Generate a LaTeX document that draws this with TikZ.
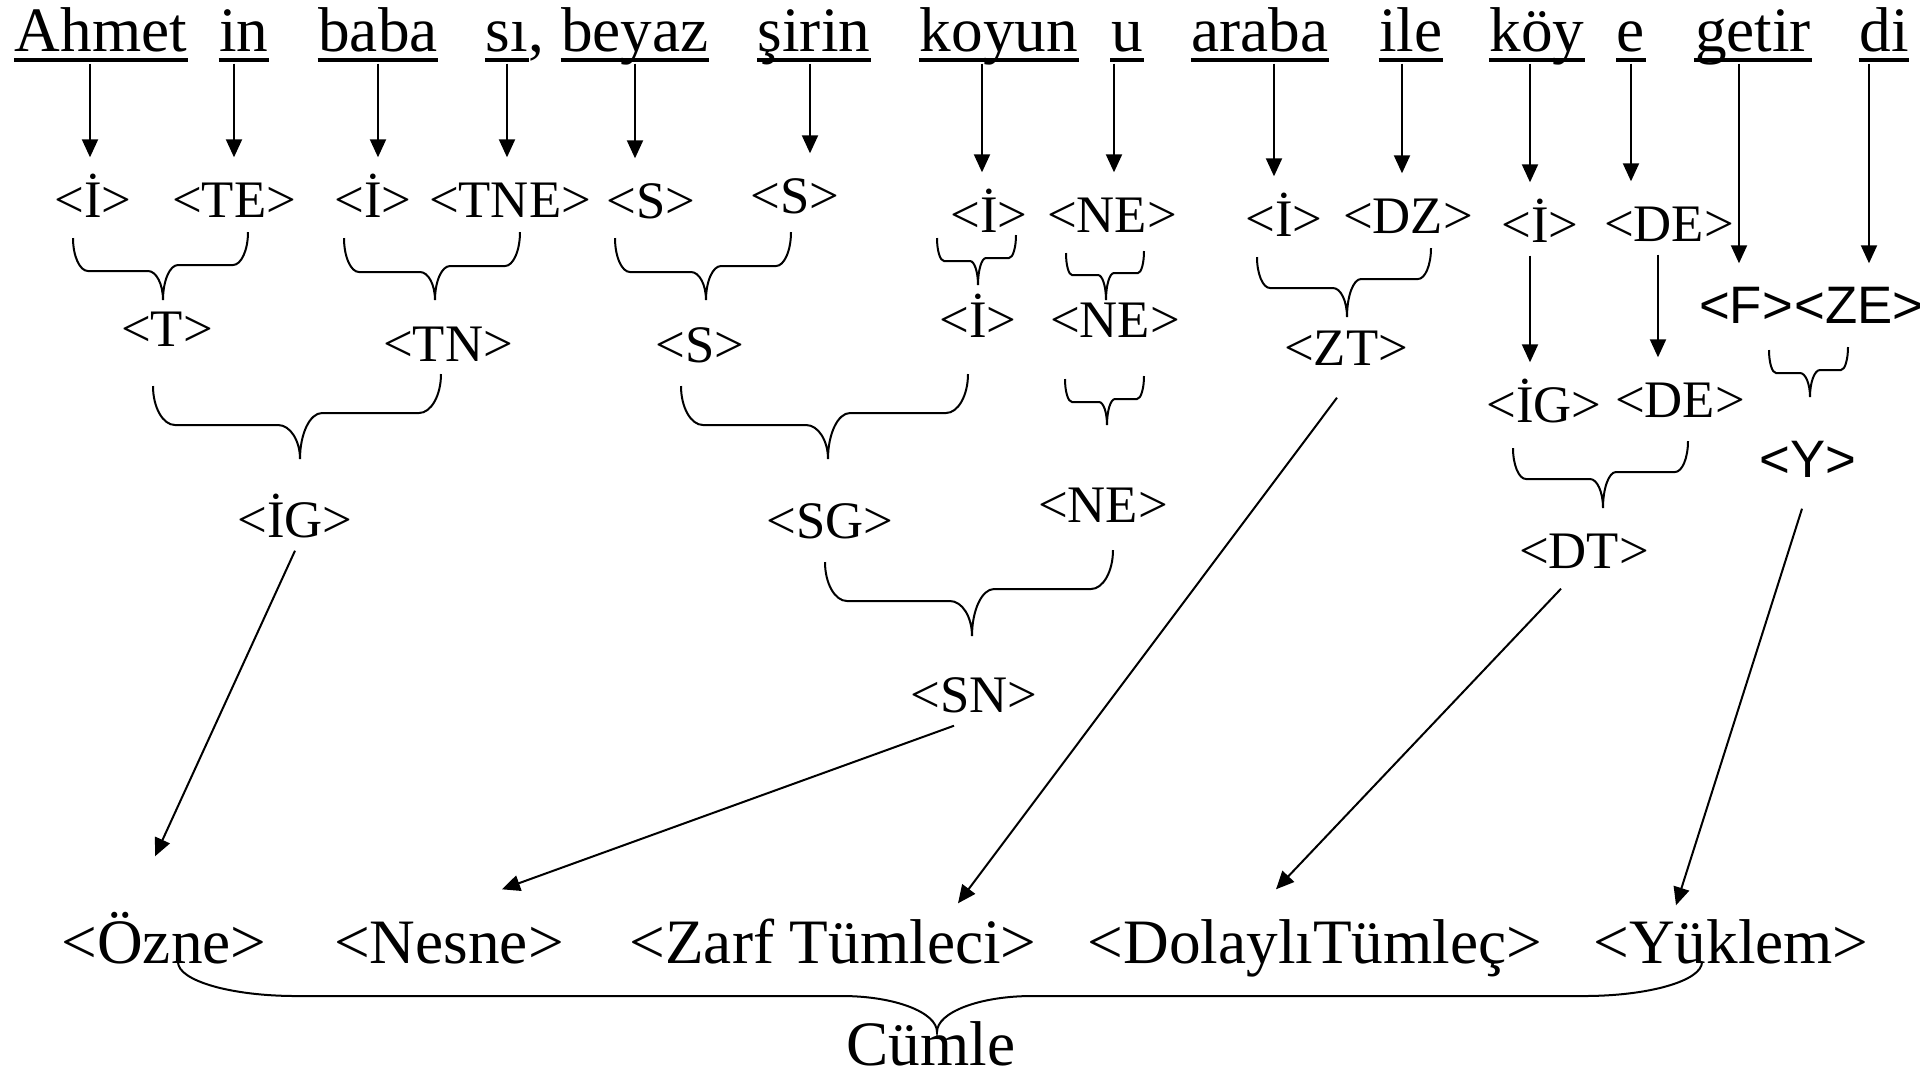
\documentclass[tikz,border=0pt]{standalone}
\usepackage{fontspec}
\setmainfont{Liberation Serif}
\newfontfamily\arialfont{Liberation Sans}
\usetikzlibrary{arrows.meta}

\newcommand{\bigfont}{\fontsize{18}{20}\selectfont}
\newcommand{\midfont}{\fontsize{15}{17}\selectfont}

% curly brace: left top (#1,#2), right top (#3,#4), tip (#5,#6),
% arm depth #7, corner width #8, tip half width #9
\newcommand{\ubrace}[9]{%
  \draw[curly] (#1,#2) .. controls +(0,0.55*#7) and +(-0.55*#8,0) .. (#1+#8,#2+#7)
    -- (#5-#9,#2+#7) .. controls +(0.55*#9,0) and +(0,{-0.55*(#6-#2-#7)}) .. (#5,#6)
    .. controls +(0,{-0.55*(#6-#4-#7)}) and +(-0.55*#9,0) .. (#5+#9,#4+#7)
    -- (#3-#8,#4+#7) .. controls +(0.55*#8,0) and +(0,0.55*#7) .. (#3,#4);}

\begin{document}
\begin{tikzpicture}[
    x=0.1mm, y=-0.1mm,
    word/.style={
        font=\bigfont,
        inner sep=0pt,
        text depth=1.2mm,
        anchor=base
    },
    cat/.style={
        font=\midfont,
        inner sep=0pt,
        text height=5.9mm,
        text depth=1.3mm,
        anchor=base
    },
    scat/.style={cat, font=\midfont\arialfont},
    elem/.style={
        font=\bigfont,
        inner sep=0pt,
        text height=7.3mm,
        anchor=base
    },
    arr/.style={line width=0.2mm, -{Triangle[length=1.8mm, width=1.6mm]}},
    curly/.style={line width=0.2mm},
    uline/.style={line width=0.38mm}
]
\useasboundingbox (0,0) rectangle (1920,1080);

% Sentence, split into parts
\node[word] (ahmet) at (101,51)  {Ahmet};
\node[word] (in)    at (244,51)  {in};
\node[word] (baba)  at (378,51)  {baba};
\node[word] (si)    at (507,51)  {sı\rlap{,}};
\node[word] (beyaz) at (635,51)  {beyaz};
\node[word] (sirin) at (814,51)  {şirin};
\node[word] (koyun) at (999,51)  {koyun};
\node[word] (u)     at (1127,51) {u};
\node[word] (araba) at (1260,51) {araba};
\node[word] (ile)   at (1411,51) {ile};
\node[word] (koy)   at (1537,51) {köy};
\node[word] (e)     at (1631,51) {e};
\node[word] (getir) at (1753,51) {getir};
\node[word] (di)    at (1884,51) {di};

\foreach \w in {ahmet,in,baba,si,beyaz,sirin,koyun,u,araba,ile,koy,e,getir,di}
    \draw[uline] ([yshift=-0.9mm]\w.base west) -- ([yshift=-0.9mm]\w.base east);

% First row of categories
\node[cat]  (i1)  at (93,217)   {<İ>};
\node[cat]  (te)  at (234,217)  {<TE>};
\node[cat]  (i2)  at (373,217)  {<İ>};
\node[cat]  (tne) at (510,217)  {<TNE>};
\node[cat]  (s1)  at (651,218)  {<S>};
\node[cat]  (s2)  at (795,213)  {<S>};
\node[cat]  (i3)  at (989,232)  {<İ>};
\node[cat]  (ne1) at (1112,232) {<NE>};
\node[cat]  (i4)  at (1284,236) {<İ>};
\node[cat]  (dz)  at (1408,233) {<DZ>};
\node[cat]  (i5)  at (1540,242) {<İ>};
\node[cat]  (de1) at (1669,241) {<DE>};
\node[scat] (f)   at (1746,323) {<F>};
\node[scat] (ze)  at (1859,323) {<ZE>};

% Second row
\node[cat]  (t)   at (167,346)  {<T>};
\node[cat]  (tn)  at (448,361)  {<TN>};
\node[cat]  (s3)  at (700,362)  {<S>};
\node[cat]  (i6)  at (978,337)  {<İ>};
\node[cat]  (ne2) at (1115,337) {<NE>};
\node[cat]  (zt)  at (1346,365) {<ZT>};
\node[cat]  (ig1) at (1544,422) {<İG>};
\node[cat]  (de2) at (1680,417) {<DE>};
\node[scat] (y)   at (1808,477) {<Y>};

% Third row
\node[cat] (ig2) at (295,537)  {<İG>};
\node[cat] (sg)  at (830,538)  {<SG>};
\node[cat] (ne3) at (1103,522) {<NE>};
\node[cat] (dt)  at (1584,568) {<DT>};
\node[cat] (sn)  at (974,712)  {<SN>};

% Sentence elements
\node[elem] (ozne)    at (164,963)  {<Özne>};
\node[elem] (nesne)   at (449,963)  {<Nesne>};
\node[elem] (zarf)    at (833,963)  {<Zarf Tümleci>};
\node[elem] (dolayli) at (1315,963) {<DolaylıTümleç>};
\node[elem] (yuklem)  at (1731,963) {<Yüklem>};
\node[elem] (cumle)   at (931,1065) {Cümle};

% Straight down arrows
\foreach \a/\b/\dx in {ahmet/i1/-1.1, in/te/-1.0, baba/i2/0, si/tne/0,
        beyaz/s1/0, sirin/s2/-0.4, koyun/i3/-1.7, u/ne1/-1.3, araba/i4/1.4,
        ile/dz/-0.9, koy/i5/-0.7, e/de1/0, getir/f/-1.4, di/ze/-1.5,
        i5/ig1/-1.0, de1/de2/-1.1}
    \draw[arr] ([xshift=\dx mm]\a.south) coordinate (top) -- (top |- \b.north);

% Braces
\ubrace{73}{238}{248}{232}{163}{300}{33}{15}{15}
\ubrace{344}{238}{520}{232}{435}{300}{34}{15}{15}
\ubrace{615}{238}{791}{232}{706}{300}{34}{15}{15}
\ubrace{937}{238}{1016}{235}{978}{285}{23}{7}{8}
\ubrace{1066}{253}{1144}{251}{1106}{300}{22}{6}{8}
\ubrace{1257}{257}{1431}{248}{1347}{317}{31}{13}{14}
\ubrace{1769}{350}{1848}{347}{1810}{397}{23}{7}{10}
\ubrace{153}{386}{441}{374}{300}{459}{39}{22}{22}
\ubrace{681}{386}{968}{374}{828}{459}{39}{22}{22}
\ubrace{1065}{379}{1144}{376}{1107}{425}{23}{7}{8}
\ubrace{825}{562}{1113}{550}{972}{636}{39}{22}{22}
\ubrace{1513}{448}{1688}{441}{1603}{508}{31}{13}{13}
\ubrace{178}{962}{1702}{962}{937}{1032}{34}{118}{95}

% Arrows down to the sentence elements
\draw[arr] (ig2.south) -- ([xshift=-0.9mm, yshift=3.3mm]ozne.north);
\draw[arr] ([xshift=-2mm]sn.south) -- ([xshift=5.3mm]nesne.north);
\draw[arr] ([xshift=-0.9mm, yshift=-1.9mm]zt.south) -- ([xshift=12.5mm, yshift=-1.4mm]zarf.north);
\draw[arr] ([xshift=-2.3mm, yshift=-0.7mm]dt.south) -- ([xshift=-3.9mm]dolayli.north);
\draw[arr] ([xshift=-0.6mm, yshift=-1.8mm]y.south) -- ([xshift=-5.5mm, yshift=-1.6mm]yuklem.north);

\end{tikzpicture}
\end{document}
